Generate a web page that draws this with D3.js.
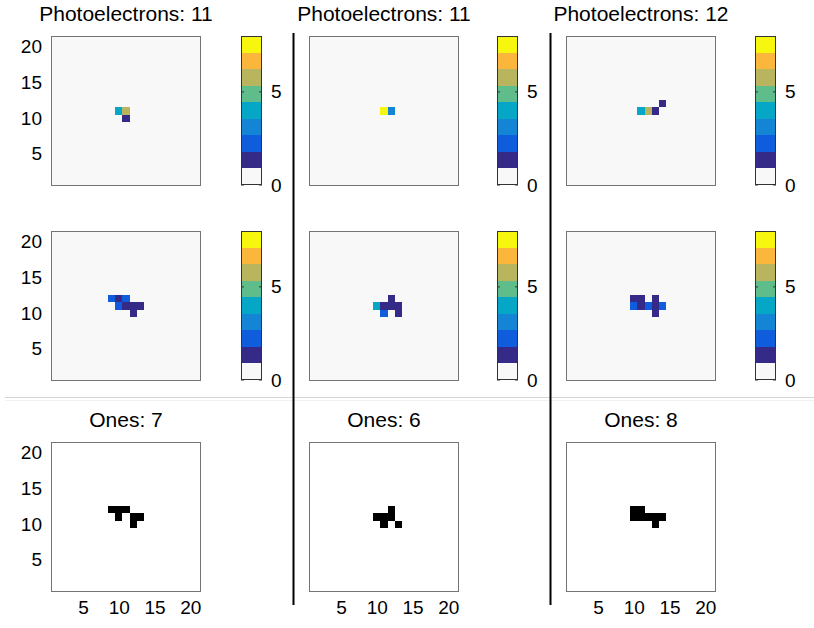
<!DOCTYPE html>
<html>
<head>
<meta charset="utf-8">
<script src="https://cdn.jsdelivr.net/npm/d3@7"></script>
<style>
  html, body { margin: 0; padding: 0; background: #ffffff; }
  svg { display: block; font-family: "Liberation Sans", Arial, Helvetica, sans-serif; }
</style>
</head>
<body>
<svg id="chart" width="814" height="628"></svg>
<script>
// Detector grid: 21 x 21 pixels, cell centres at 1..21
const gridSize = 21;
const axisTicks = [5, 10, 15, 20];
const colorbarTicks = [0, 5];
const colorLimit = [0, 8];

// White for empty pixels, then an 8-step parula ramp
const levelColors = ["#f8f8f8", "#352a87", "#0f5cdd", "#1484d4", "#06a6c6",
                     "#5fbd8c", "#b9b55e", "#fbb73c", "#f6f60f"];

const photoCounts = [11, 11, 12];
const onesCounts = [7, 6, 8];

// [column, row, photoelectrons] for the raw hits
const rawCells = [
  [[10, 11, 4], [11, 11, 6], [11, 10, 1]],
  [[11, 11, 8], [12, 11, 3]],
  [[11, 11, 4], [12, 11, 6], [13, 11, 1], [14, 12, 1]]
];

// [column, row, photoelectrons] after charge spreading
const spreadCells = [
  [[9, 12, 2], [10, 12, 1], [11, 12, 2],
   [10, 11, 2], [11, 11, 1], [12, 11, 1], [13, 11, 1],
   [12, 10, 1]],
  [[12, 12, 1],
   [10, 11, 4], [11, 11, 1], [12, 11, 1], [13, 11, 1],
   [11, 10, 2], [13, 10, 1]],
  [[10, 12, 1], [11, 12, 1], [13, 12, 1],
   [10, 11, 2], [11, 11, 1], [12, 11, 2], [13, 11, 1], [14, 11, 2],
   [13, 10, 1]]
];

// [column, row] of pixels that read exactly one
const onesCells = [
  [[9, 12], [10, 12], [11, 12], [10, 11], [12, 11], [13, 11], [12, 10]],
  [[12, 12], [10, 11], [11, 11], [12, 11], [11, 10], [13, 10]],
  [[10, 12], [11, 12], [10, 11], [11, 11], [12, 11], [13, 11], [14, 11], [13, 10]]
];

const svg = d3.select("#chart");
const boxSize = 150;
const colLefts = [51, 309, 566];
const cbarLefts = [241, 497, 755];
const cbarWidth = 21;
const rowTops = [36, 231, 442];

const color = d3.scaleQuantize().domain(colorLimit).range(levelColors);
const fontMain = 19;

function panel(g, left, top, bg) {
  const x = d3.scaleLinear().domain([0.5, gridSize + 0.5]).range([left, left + boxSize]);
  const y = d3.scaleLinear().domain([0.5, gridSize + 0.5]).range([top + boxSize, top]);
  g.append("rect")
    .attr("x", left).attr("y", top)
    .attr("width", boxSize).attr("height", boxSize)
    .attr("fill", bg);
  return { x, y };
}

function frame(g, left, top) {
  g.append("rect")
    .attr("x", left + 0.5).attr("y", top + 0.5)
    .attr("width", boxSize - 1).attr("height", boxSize - 1)
    .attr("fill", "none").attr("stroke", "#747474").attr("stroke-width", 1);
}

function drawCells(g, s, cells, fillFn) {
  g.selectAll(null).data(cells).enter().append("rect")
    .attr("x", d => s.x(d[0] - 0.5))
    .attr("y", d => s.y(d[1] + 0.5))
    .attr("width", d => s.x(d[0] + 0.5) - s.x(d[0] - 0.5))
    .attr("height", d => s.y(d[1] - 0.5) - s.y(d[1] + 0.5))
    .attr("fill", fillFn)
    .attr("shape-rendering", "crispEdges");
}

function yAxis(g, s) {
  const ax = g.append("g").attr("transform", `translate(${s.x.range()[0]},0)`)
    .call(d3.axisLeft(s.y).tickValues(axisTicks).tickSize(0).tickPadding(9));
  ax.select(".domain").remove();
  ax.selectAll("text").attr("font-size", fontMain).attr("fill", "#000")
    .attr("font-family", "Liberation Sans, Arial, sans-serif");
}

function xAxis(g, s) {
  const ax = g.append("g").attr("transform", `translate(0,${s.y.range()[0]})`)
    .call(d3.axisBottom(s.x).tickValues(axisTicks).tickSize(0).tickPadding(9));
  ax.select(".domain").remove();
  ax.selectAll("text").attr("font-size", fontMain).attr("fill", "#000")
    .attr("font-family", "Liberation Sans, Arial, sans-serif");
}

function colorbar(g, left, top) {
  const cy = d3.scaleLinear().domain(colorLimit).range([top + boxSize - 1, top]);
  const n = levelColors.length;
  const step = (colorLimit[1] - colorLimit[0]) / n;
  g.selectAll(null).data(levelColors).enter().append("rect")
    .attr("x", left).attr("width", cbarWidth)
    .attr("y", (d, i) => cy((i + 1) * step))
    .attr("height", (d, i) => cy(i * step) - cy((i + 1) * step))
    .attr("fill", d => d)
    .attr("shape-rendering", "crispEdges");
  g.append("rect")
    .attr("x", left + 0.5).attr("y", cy(colorLimit[1]) + 0.5)
    .attr("width", cbarWidth - 1).attr("height", cy(colorLimit[0]) - cy(colorLimit[1]) - 1)
    .attr("fill", "none").attr("stroke", "#333").attr("stroke-width", 1);
  const ax = g.append("g").attr("transform", `translate(${left + cbarWidth},0)`)
    .call(d3.axisRight(cy).tickValues(colorbarTicks).tickSize(0).tickPadding(9));
  ax.select(".domain").remove();
  ax.selectAll("text").attr("font-size", fontMain).attr("fill", "#000")
    .attr("font-family", "Liberation Sans, Arial, sans-serif");
  // small inward tick marks on both edges
  colorbarTicks.forEach(t => {
    g.append("line").attr("x1", left).attr("x2", left + 3)
      .attr("y1", cy(t)).attr("y2", cy(t)).attr("stroke", "#333");
    g.append("line").attr("x1", left + cbarWidth - 3).attr("x2", left + cbarWidth)
      .attr("y1", cy(t)).attr("y2", cy(t)).attr("stroke", "#333");
  });
}

function title(g, left, y, text) {
  g.append("text")
    .attr("x", left + boxSize / 2).attr("y", y)
    .attr("text-anchor", "middle")
    .attr("font-size", 21).attr("fill", "#000")
    .text(text);
}

// horizontal separator between the photoelectron maps and the binary maps
svg.append("line").attr("x1", 5).attr("x2", 814).attr("y1", 397.5).attr("y2", 397.5)
  .attr("stroke", "#d4d4d4").attr("stroke-width", 1);
svg.append("line").attr("x1", 5).attr("x2", 814).attr("y1", 400.5).attr("y2", 400.5)
  .attr("stroke", "#f0f0f0").attr("stroke-width", 1);

for (let c = 0; c < 3; c++) {
  const g = svg.append("g");
  const left = colLefts[c];

  // row 1: raw photoelectron hits
  title(g, left, 21, `Photoelectrons: ${photoCounts[c]}`);
  const s1 = panel(g, left, rowTops[0], levelColors[0]);
  drawCells(g, s1, rawCells[c], d => color(d[2]));
  frame(g, left, rowTops[0]);
  colorbar(g, cbarLefts[c], rowTops[0]);

  // row 2: spread photoelectrons
  const s2 = panel(g, left, rowTops[1], levelColors[0]);
  drawCells(g, s2, spreadCells[c], d => color(d[2]));
  frame(g, left, rowTops[1]);
  colorbar(g, cbarLefts[c], rowTops[1]);

  // row 3: pixels with exactly one
  title(g, left, 427, `Ones: ${onesCounts[c]}`);
  const s3 = panel(g, left, rowTops[2], "#ffffff");
  drawCells(g, s3, onesCells[c], "#000");
  frame(g, left, rowTops[2]);
  xAxis(g, s3);

  if (c === 0) {
    yAxis(g, s1);
    yAxis(g, s2);
    yAxis(g, s3);
  }
}

// vertical separators between columns
[293.5, 550.5].forEach(xv => {
  svg.append("line").attr("x1", xv).attr("x2", xv).attr("y1", 33).attr("y2", 605)
    .attr("stroke", "#000").attr("stroke-width", 2);
});
</script>
</body>
</html>
